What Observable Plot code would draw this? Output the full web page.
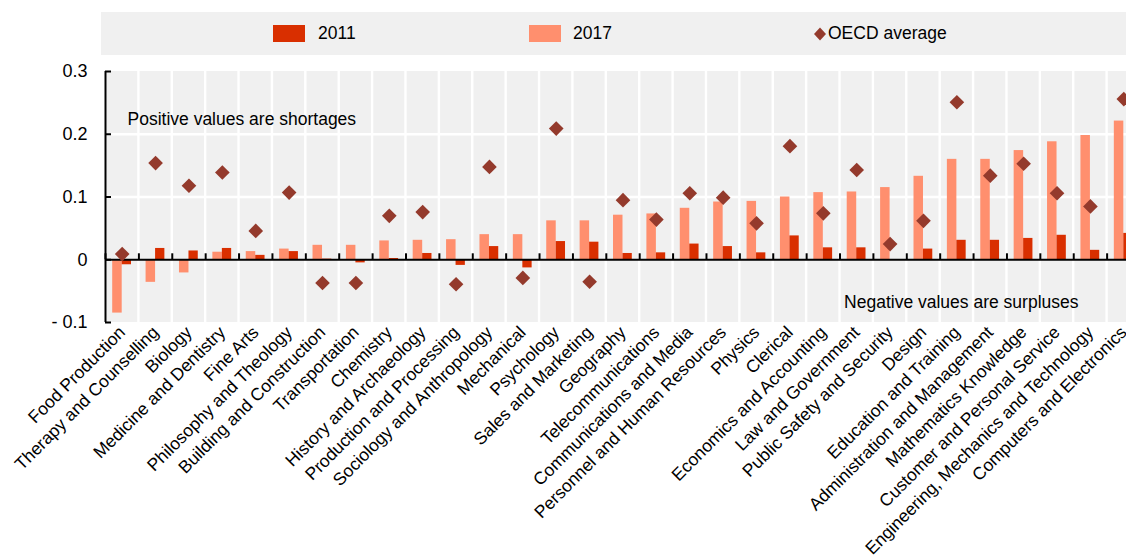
<!DOCTYPE html>
<html>
<head>
<meta charset="utf-8">
<script src="https://cdn.jsdelivr.net/npm/d3@7"></script>
<script src="https://cdn.jsdelivr.net/npm/@observablehq/plot@0.6"></script>
<style>
  html, body { margin: 0; padding: 0; background: #fff; overflow: hidden; width: 1126px; height: 560px; }
  body { font-family: "Liberation Sans", Arial, sans-serif; color: #000; }
  #legend { position: relative; margin-left: 101px; margin-top: 12px; width: 1039px; height: 43px; background: #f0f0f0; font-size: 17.5px; }
  #legend .sw { position: absolute; top: 13px; width: 32px; height: 17px; }
  #legend .lab { position: absolute; top: 11px; line-height: 20px; }
  #chart svg { display: block; max-width: none !important; }
</style>
</head>
<body>
<div id="legend"></div>
<div id="chart"></div>
<script>
const categories = [
  "Food Production", "Therapy and Counselling", "Biology", "Medicine and Dentistry", "Fine Arts",
  "Philosophy and Theology", "Building and Construction", "Transportation", "Chemistry",
  "History and Archaeology", "Production and Processing", "Sociology and Anthropology", "Mechanical",
  "Psychology", "Sales and Marketing", "Geography", "Telecommunications", "Communications and Media",
  "Personnel and Human Resources", "Physics", "Clerical", "Economics and Accounting",
  "Law and Government", "Public Safety and Security", "Design", "Education and Training",
  "Administration and Management", "Mathematics Knowledge", "Customer and Personal Service",
  "Engineering, Mechanics and Technology", "Computers and Electronics"
];
const values2011 = [-0.008, 0.018, 0.014, 0.018, 0.007, 0.013, 0.001, -0.005, 0.002, 0.010, -0.009, 0.021, -0.013,
  0.029, 0.028, 0.010, 0.011, 0.025, 0.021, 0.011, 0.038, 0.019, 0.019, 0.000, 0.017, 0.031, 0.031, 0.034, 0.039, 0.015, 0.042];
const values2017 = [-0.085, -0.036, -0.021, 0.012, 0.013, 0.017, 0.023, 0.023, 0.030, 0.031, 0.032, 0.040, 0.040,
  0.062, 0.062, 0.071, 0.073, 0.082, 0.092, 0.093, 0.100, 0.107, 0.108, 0.115, 0.133, 0.160, 0.160, 0.174, 0.188, 0.198, 0.221];
const valuesOECD = [0.009, 0.154, 0.118, 0.139, 0.046, 0.107, -0.037, -0.037, 0.070, 0.076, -0.039, 0.148, -0.029,
  0.209, -0.035, 0.095, 0.064, 0.106, 0.099, 0.058, 0.181, 0.074, 0.143, 0.025, 0.062, 0.251, 0.134, 0.153, 0.106, 0.085, 0.256];
const seriesNames = ["2011", "2017", "OECD average"];
const yTicks = [-0.1, 0, 0.1, 0.2, 0.3];
const annotations = ["Positive values are shortages", "Negative values are surpluses"];

const colors = { "2011": "#d92f00", "2017": "#ff8f6e", "OECD average": "#943a2c" };

const rows = categories.map((c, i) => ({ cat: c, v2011: values2011[i], v2017: values2017[i], oecd: valuesOECD[i] }));

// Legend
const legend = document.getElementById("legend");
const legendPos = [{ sw: 172, lab: 217 }, { sw: 428, lab: 472 }, { sw: 712, lab: 727 }];
seriesNames.forEach((name, i) => {
  if (i < 2) {
    const s = document.createElement("div");
    s.className = "sw";
    s.style.left = legendPos[i].sw + "px";
    s.style.background = colors[name];
    legend.appendChild(s);
  } else {
    const ns = "http://www.w3.org/2000/svg";
    const s = document.createElementNS(ns, "svg");
    s.setAttribute("width", 14); s.setAttribute("height", 14);
    s.style.position = "absolute"; s.style.left = legendPos[i].sw + "px"; s.style.top = "15px";
    const p = document.createElementNS(ns, "path");
    p.setAttribute("d", "M7,0.5L13,7L7,13.5L1,7Z");
    p.setAttribute("fill", colors[name]);
    s.appendChild(p);
    legend.appendChild(s);
  }
  const t = document.createElement("div");
  t.className = "lab";
  t.style.left = legendPos[i].lab + "px";
  t.textContent = name;
  legend.appendChild(t);
});

const W = 1140, H = 505, ML = 105, MR = 0, MT = 16, MB = 238;
const bw = (W - ML - MR) / categories.length;
const yDomain = [yTicks[0], yTicks[yTicks.length - 1]];
const fmt = d => d < 0 ? "- " + Math.abs(d) : String(d);

const chart = Plot.plot({
  width: W, height: H,
  marginTop: MT, marginBottom: MB, marginLeft: ML, marginRight: MR,
  style: { fontFamily: "'Liberation Sans', Arial, sans-serif", fontSize: "17.5px", color: "#000", background: "transparent", overflow: "visible" },
  x: { domain: categories, padding: 0, round: false, label: null },
  y: { domain: yDomain, label: null },
  marks: [
    Plot.barY(categories, { x: d => d, y1: yDomain[0], y2: yDomain[1], fill: "#f0f0f0", insetLeft: 1.2, insetRight: 1.2 }),
    Plot.ruleY(yTicks.filter(d => d > 0 && d < yDomain[1]), { stroke: "#fff", strokeWidth: 2.5 }),
    Plot.barY(rows, { x: "cat", y: "v2017", fill: colors["2017"], insetLeft: 7.2, insetRight: bw / 2 }),
    Plot.barY(rows, { x: "cat", y: "v2011", fill: colors["2011"], insetLeft: bw / 2, insetRight: 7.4 }),
    Plot.ruleY([0], { stroke: "#000", strokeWidth: 2 }),
    Plot.ruleX(categories, { x: d => d, y1: 0, y2: 0.0095, dx: -bw / 2, stroke: "#000", strokeWidth: 2 }),
    Plot.ruleX([categories[0]], { x: d => d, dx: -bw / 2, stroke: "#000", strokeWidth: 2 }),
    Plot.tickY(yTicks, { x: () => categories[0], y: d => d, insetLeft: 0, insetRight: bw - 6, stroke: "#000", strokeWidth: 2 }),
    Plot.dot(rows, { x: "cat", y: "oecd", symbol: "diamond2", r: 6.6, fill: colors["OECD average"], stroke: null }),
    Plot.text([annotations[0]], { frameAnchor: "top-left", textAnchor: "start", lineAnchor: "middle", dx: 22, dy: 48, fontSize: 17.5 }),
    Plot.text([annotations[1]], { frameAnchor: "bottom-right", textAnchor: "end", lineAnchor: "middle", dx: -62, dy: -20, fontSize: 17.5 }),
    Plot.axisY(yTicks, { tickSize: 0, tickPadding: 18, tickFormat: fmt, fontSize: 18 }),
    Plot.axisX({ tickRotate: -45, tickSize: 0, tickPadding: 7, fontSize: 17.5, label: null })
  ]
});
chart.style.maxWidth = "none";
document.getElementById("chart").appendChild(chart);
</script>
</body>
</html>
